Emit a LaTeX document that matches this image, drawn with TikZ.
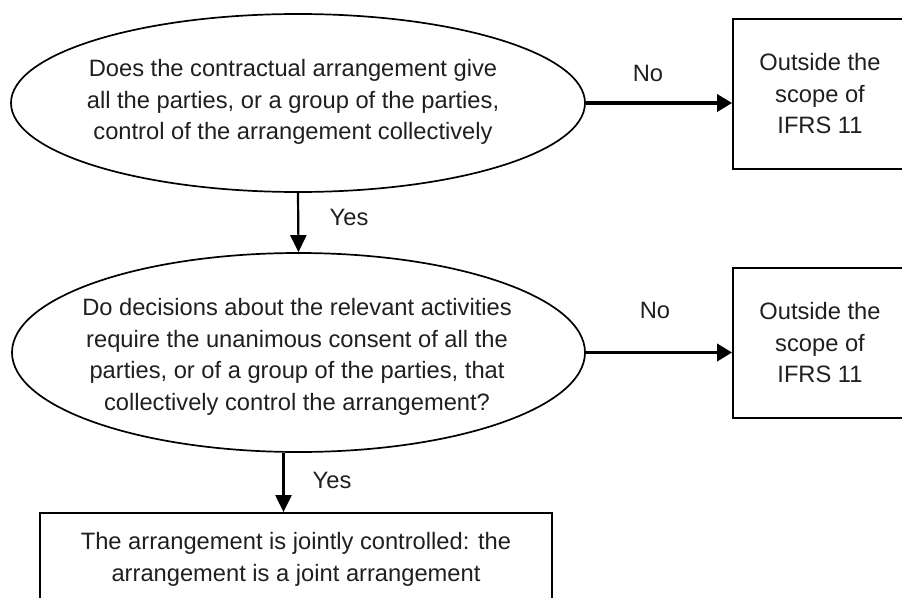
\documentclass[tikz,border=0pt]{standalone}
\usepackage{fontspec}
\setmainfont{Liberation Sans}
\usetikzlibrary{shapes.geometric,arrows.meta}
\begin{document}
\begin{tikzpicture}[x=1pt,y=-1pt,
  every node/.style={font=\fontsize{23.7}{31.5}\selectfont, text=black!88},
  question/.style={draw, ellipse, line width=1.7pt, inner sep=0pt},
  qtext/.style={align=center, inner sep=0pt},
  outbox/.style={draw, rectangle, line width=1.8pt, align=center, inner sep=0pt, minimum width=174pt, minimum height=150pt},
  arr/.style={line width=2.2pt, -{Triangle[length=17pt,width=16pt]}},
  noarr/.style={line width=3.5pt, -{Triangle[length=15pt,width=17pt]}},
  lbl/.style={inner sep=0pt}]
\clip (0,0) rectangle (902,597);
\node[question, minimum width=574pt, minimum height=178pt] (q1) at (298,103) {};
\node[qtext] (q1t) at (293,102) {Does the contractual arrangement give\\all the parties, or a group of the parties,\\control of the arrangement collectively};
\node[outbox] (b1) at (820,94) {Outside the\\scope of\\IFRS 11};
\node[question, minimum width=573pt, minimum height=199pt] (q2) at (298.5,352.5) {};
\node[qtext] (q2t) at (297,357) {Do decisions about the relevant activities\\require the unanimous consent of all the\\parties, or of a group of the parties, that\\collectively control the arrangement?};
\node[outbox] (b2) at (820,343) {Outside the\\scope of\\IFRS 11};
\node[draw, rectangle, line width=1.8pt, align=center, inner sep=0pt, minimum width=512pt, minimum height=93pt] (b3) at (296,559.5) {The arrangement is jointly controlled: the\\arrangement is a joint arrangement};
\draw[noarr] (q1.east) -- (q1.east -| b1.west);
\draw[noarr] (q2.east) -- (q2.east -| b2.west);
\draw[arr] (q1.south) -- (q2.north);
\draw[arr] ([xshift=-15pt]q2.south) -- ([xshift=-15pt]q2.south |- b3.north);
\node[lbl] (no1) at (648,73) {No};
\node[lbl] (no2) at (655,310) {No};
\node[lbl] (yes1) at (349,217) {Yes};
\node[lbl] (yes2) at (332,480) {Yes};
\end{tikzpicture}
\end{document}
